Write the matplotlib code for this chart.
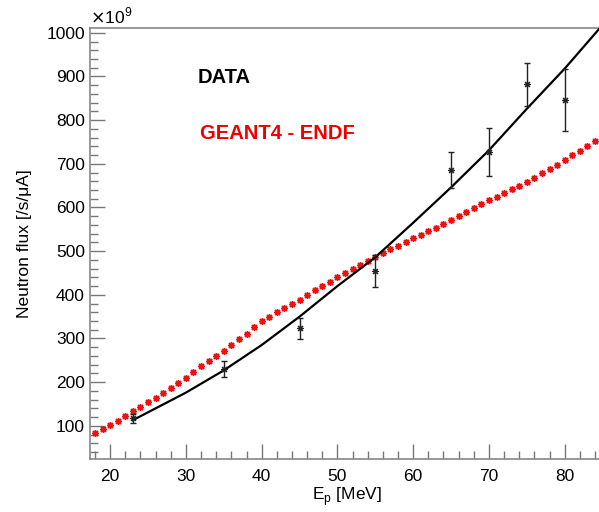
import numpy as np
import matplotlib
matplotlib.use("Agg")
import matplotlib.pyplot as plt

plt.rcParams['font.family'] = ['Liberation Sans', 'DejaVu Sans']

# measured data (x10^9 n/s/uA)
data_ep = [23, 35, 45, 55, 65, 70, 75, 80]
data_flux = [117, 230, 323, 455, 685, 727, 882, 846]
data_err = [11, 19, 25, 37, 41, 56, 49, 72]

# fit curve through data
fit_ep = [23, 26, 30, 35, 40, 45, 50, 55, 60, 65, 70, 75, 80, 85]
fit_flux = [113, 140, 176, 227, 285, 350, 420, 486, 565, 646, 731, 826, 918, 1018]

# GEANT4 - ENDF simulation, every 1 MeV
sim_ep = list(range(18, 86))
sim_flux = [83, 92, 101, 112, 123, 134, 144, 154, 164, 175,
            186, 198, 210, 223, 236, 248, 260, 272, 285, 298,
            311, 326, 340, 350, 360, 370, 380, 389, 399, 410,
            420, 430, 440, 450, 459, 468, 478, 487, 495, 504,
            512, 520, 529, 537, 545, 554, 562, 571, 580, 589,
            598, 608, 617, 625, 634, 642, 650, 659, 668, 678,
            688, 698, 708, 719, 730, 741, 752, 763]

fig = plt.figure(figsize=(5.99, 5.12), dpi=100)
ax = fig.add_axes([0.151, 0.1035, 0.855, 0.841])

ax.plot(sim_ep, sim_flux, linestyle='none', marker=(8, 2, 0), markersize=5,
        markeredgewidth=1.0, color='#ee1111', zorder=2)
ax.plot(fit_ep, fit_flux, color='black', linewidth=1.6, zorder=3)
ax.errorbar(data_ep, data_flux, yerr=data_err, fmt='none', ecolor='#222222',
            elinewidth=1.0, capsize=2.5, capthick=1.0, zorder=4)
ax.plot(data_ep, data_flux, linestyle='none', marker=(8, 2, 0), markersize=5,
        markeredgewidth=0.8, color='#222222', zorder=5)

ax.set_xlim(17.4, 85)
ax.set_ylim(24, 1010)
ax.set_xticks([20, 30, 40, 50, 60, 70, 80])
ax.set_xticks(np.arange(18, 86, 2), minor=True)
ax.set_yticks(range(100, 1001, 100))
ax.set_yticks(range(40, 1010, 20), minor=True)

for s in ax.spines.values():
    s.set_color('#888888')
    s.set_linewidth(1.2)

ax.tick_params(which='both', direction='in', color='#777777', labelsize=12.5,
               top=False, right=False)
ax.tick_params(which='major', length=11, width=1.0)
ax.tick_params(which='minor', length=5.5, width=1.0)
ax.tick_params(axis='x', pad=7)
ax.tick_params(axis='y', pad=4)

ax.set_xlabel(r'E$_\mathregular{p}$ [MeV]', fontsize=12.5, labelpad=1)
ax.set_ylabel('Neutron flux [/s/\u03bcA]', fontsize=12.5, labelpad=10)
ax.text(0.0, 1.005, r'$\times$10$^\mathregular{9}$', transform=ax.transAxes,
        fontsize=12.5, ha='left', va='bottom')

ax.text(31.6, 898, 'DATA', fontsize=14.5, fontweight='bold', color='black',
        ha='left', va='center')
ax.text(31.9, 770, 'GEANT4 - ENDF', fontsize=14.5, fontweight='bold',
        color='#ee0000', ha='left', va='center')

fig.savefig('out.png', dpi=100)
